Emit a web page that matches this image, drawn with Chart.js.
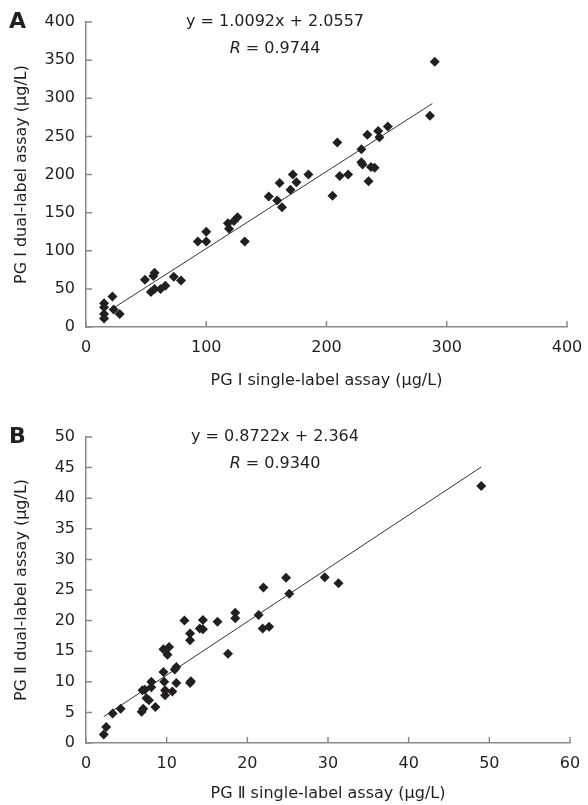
<!DOCTYPE html>
<html>
<head>
<meta charset="utf-8">
<script src="https://cdn.jsdelivr.net/npm/chart.js@4.4.0/dist/chart.umd.min.js"></script>
<style>
  html, body { margin: 0; padding: 0; background: #fff; }
  #wrap { position: relative; width: 588px; height: 805px; }
  .box { position: absolute; left: 0; width: 588px; }
</style>
</head>
<body>
<div id="wrap">
  <div class="box" style="top:0;height:400px"><canvas id="chartA" width="588" height="400"></canvas></div>
  <div class="box" style="top:400px;height:405px"><canvas id="chartB" width="588" height="405"></canvas></div>
</div>
<script>
// panel A : PG I
var aX = [15, 15, 15, 15, 22, 23, 28, 49, 56, 57, 54, 57, 62, 66, 73, 79,
          93, 100, 100, 118, 119, 123, 126, 132, 152, 159, 163, 161, 170, 172, 175, 185,
          205, 209, 211, 218, 229, 229, 230, 237, 240, 234, 235, 243, 244, 251, 286, 290];
var aY = [11, 17, 26, 31, 40, 23, 17, 62, 67, 71, 46, 50, 50, 54, 66, 61,
          112, 125, 112, 136, 129, 139, 144, 112, 171, 166, 157, 189, 180, 200, 190, 200,
          172, 242, 198, 200, 233, 216, 213, 210, 209, 252, 191, 257, 249, 263, 277, 348];
var aTrend = [[22, 24], [288, 293]];
var aXTicks = [0, 100, 200, 300, 400];
var aYTicks = [0, 50, 100, 150, 200, 250, 300, 350, 400];

// panel B : PG II
var bX = [2.2, 2.5, 3.3, 4.3, 6.9, 7.1, 7.0, 7.3, 7.5, 7.8, 8.1, 8.1, 8.6, 9.6, 9.7, 9.8, 9.8,
          9.6, 10.3, 10.1, 10.7, 11.2, 11.0, 11.2, 12.9, 13.0, 12.2, 12.9, 12.9, 14.1, 14.5, 14.5,
          16.3, 17.6, 18.5, 18.5, 21.4, 22.0, 21.9, 22.7, 24.8, 25.2, 29.6, 31.3, 49.0];
var bY = [1.4, 2.6, 4.8, 5.6, 5.1, 5.6, 8.6, 8.7, 7.3, 7.0, 10.0, 9.1, 5.9, 11.6, 10.0, 8.6, 7.8,
          15.3, 15.7, 14.4, 8.4, 9.8, 12.0, 12.4, 9.8, 10.1, 20.0, 17.9, 16.8, 18.7, 20.1, 18.6,
          19.8, 14.6, 21.3, 20.4, 20.9, 25.4, 18.7, 19.0, 27.0, 24.4, 27.1, 26.1, 42.0];
var bTrend = [[2.2, 4.3], [49, 45.1]];
var bXTicks = [0, 10, 20, 30, 40, 50, 60];
var bYTicks = [0, 5, 10, 15, 20, 25, 30, 35, 40, 45, 50];

var ink = '#231f20';
var axisGray = '#8a8a8a';
var FONT = '"DejaVu Sans", Verdana, sans-serif';

function pts(xs, ys) {
  return xs.map(function (x, i) { return { x: x, y: ys[i] }; });
}

// short tick marks drawn inside the plot, and the letter / equation text
var extras = {
  id: 'extras',
  beforeDatasetsDraw: function (chart) {
    var ctx = chart.ctx, a = chart.chartArea;
    var sx = chart.scales.x, sy = chart.scales.y;
    ctx.save();
    ctx.strokeStyle = axisGray;
    ctx.lineWidth = 1.5;
    ctx.beginPath();
    sx.ticks.forEach(function (t) {
      var px = sx.getPixelForValue(t.value);
      ctx.moveTo(px, a.bottom);
      ctx.lineTo(px, a.bottom - 6);
    });
    sy.ticks.forEach(function (t) {
      var py = sy.getPixelForValue(t.value);
      ctx.moveTo(a.left, py);
      ctx.lineTo(a.left + 6, py);
    });
    ctx.stroke();
    ctx.restore();
  },
  afterDraw: function (chart, args, o) {
    var ctx = chart.ctx, a = chart.chartArea;
    ctx.save();
    ctx.fillStyle = ink;
    ctx.textBaseline = 'middle';
    ctx.textAlign = 'left';
    ctx.font = 'bold 22px ' + FONT;
    ctx.fillText(o.letter, 9, a.top);

    var cx = 275;
    ctx.font = '16px ' + FONT;
    ctx.textAlign = 'center';
    ctx.fillText(o.eq, cx, a.top);

    // R line: italic R + regular rest, centred as one piece
    ctx.font = 'italic 16px ' + FONT;
    var w1 = ctx.measureText('R').width;
    ctx.font = '16px ' + FONT;
    var rest = ' = ' + o.r;
    var w2 = ctx.measureText(rest).width;
    var x0 = cx - (w1 + w2) / 2;
    ctx.textAlign = 'left';
    ctx.font = 'italic 16px ' + FONT;
    ctx.fillText('R', x0, a.top + 27);
    ctx.font = '16px ' + FONT;
    ctx.fillText(rest, x0 + w1, a.top + 27);
    ctx.restore();
  }
};

function makeChart(id, xs, ys, trend, xTicks, yTicks, xTitle, yTitle, box, extra) {
  var el = document.getElementById(id);
  return new Chart(el.getContext('2d'), {
    type: 'scatter',
    data: {
      datasets: [{
        data: pts(xs, ys),
        pointStyle: 'rectRot',
        pointRadius: 5,
        backgroundColor: ink,
        borderColor: ink,
        borderWidth: 0
      }, {
        type: 'line',
        data: trend.map(function (p) { return { x: p[0], y: p[1] }; }),
        borderColor: '#333',
        borderWidth: 1,
        pointRadius: 0,
        fill: false
      }]
    },
    options: {
      responsive: false,
      animation: false,
      events: [],
      layout: { padding: { left: 0, top: box.top, right: box.right, bottom: 0 } },
      plugins: { legend: { display: false }, tooltip: { enabled: false }, extras: extra },
      scales: {
        x: {
          type: 'linear',
          min: xTicks[0], max: xTicks[xTicks.length - 1],
          afterBuildTicks: function (s) { s.ticks = xTicks.map(function (v) { return { value: v }; }); },
          afterFit: function (s) { s.height = box.xh; s.paddingLeft = 0; s.paddingRight = 0; },
          grid: { display: false, drawTicks: false },
          border: { display: true, color: axisGray, width: 1.5 },
          ticks: { color: ink, font: { family: FONT, size: 16 }, padding: 11, maxRotation: 0 },
          title: { display: true, text: xTitle, color: ink, font: { family: FONT, size: 16 },
                   padding: { top: 0, bottom: box.xtp } }
        },
        y: {
          type: 'linear',
          min: yTicks[0], max: yTicks[yTicks.length - 1],
          afterBuildTicks: function (s) { s.ticks = yTicks.map(function (v) { return { value: v }; }); },
          afterFit: function (s) { s.width = 86; s.paddingTop = 0; s.paddingBottom = 0; },
          grid: { display: false, drawTicks: false },
          border: { display: true, color: axisGray, width: 1.5 },
          ticks: { color: ink, font: { family: FONT, size: 16 }, padding: 11 },
          title: { display: true, text: yTitle, color: ink, font: { family: FONT, size: 16 },
                   padding: { top: 12, bottom: 0 } }
        }
      }
    },
    plugins: [extras]
  });
}

makeChart('chartA', aX, aY, aTrend, aXTicks, aYTicks,
  'PG \u2160 single-label assay (\u03bcg/L)', 'PG \u2160 dual-label assay (\u03bcg/L)',
  { top: 22, right: 21, xh: 73, xtp: 10 },
  { letter: 'A', eq: 'y = 1.0092x + 2.0557', r: '0.9744' });

makeChart('chartB', bX, bY, bTrend, bXTicks, bYTicks,
  'PG \u2161 single-label assay (\u03bcg/L)', 'PG \u2161 dual-label assay (\u03bcg/L)',
  { top: 37, right: 18, xh: 62, xtp: 2 },
  { letter: 'B', eq: 'y = 0.8722x + 2.364', r: '0.9340' });
</script>
</body>
</html>
